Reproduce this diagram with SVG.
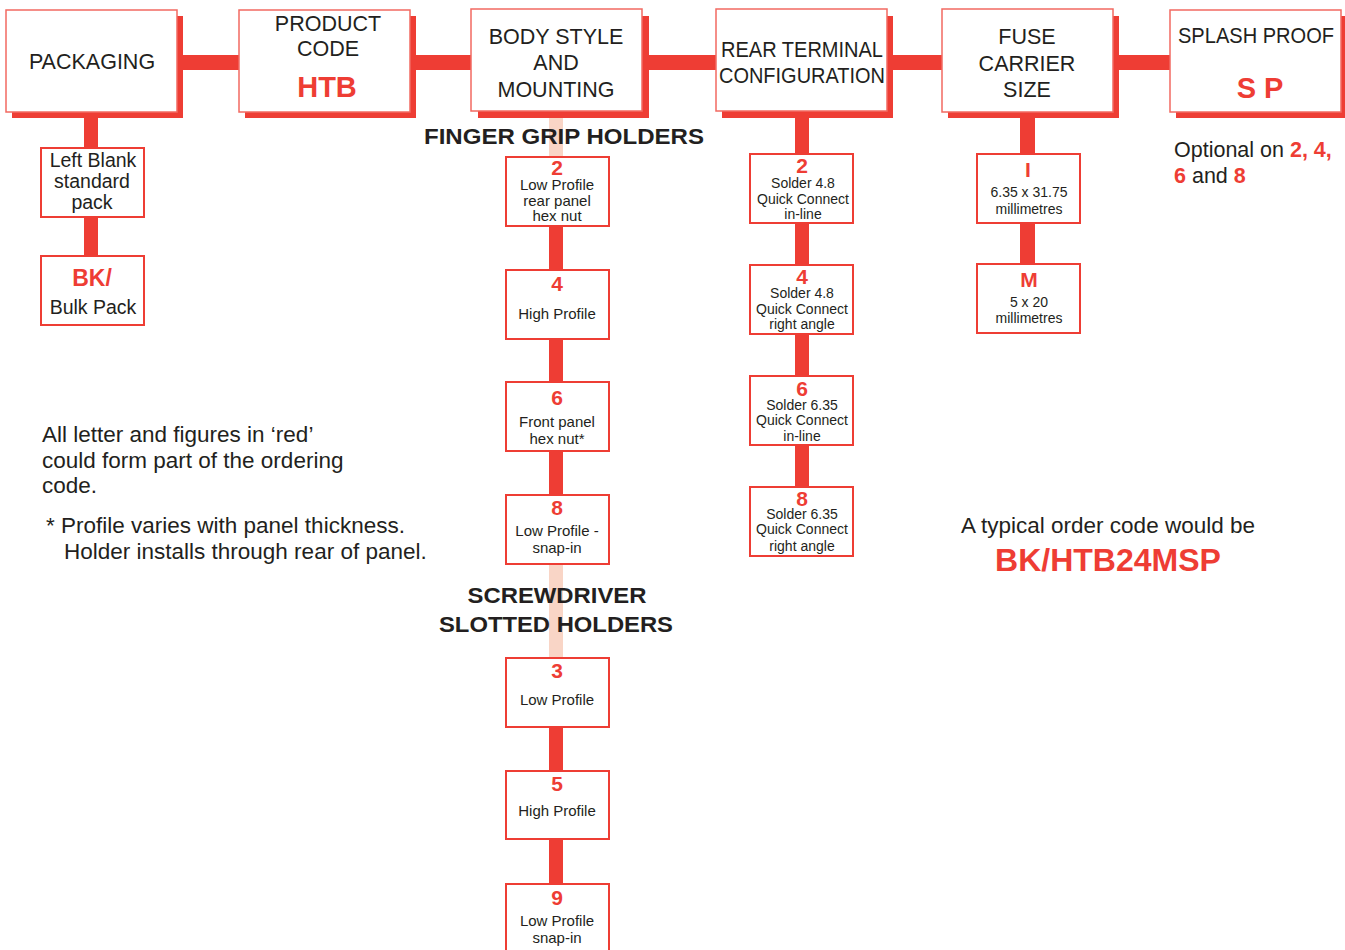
<svg xmlns="http://www.w3.org/2000/svg" width="1345" height="950" viewBox="0 0 1345 950">
<style>
text{font-family:"Liberation Sans",Arial,sans-serif;fill:#231f20;text-anchor:middle}
.h{font-size:21.5px}
.rb{fill:#ee3d34;font-weight:bold}
.s{font-size:14px}
.b{font-size:15px}
.m{font-size:19.5px}
.num{font-size:21px}
.sh{fill:#ee3d34}
.hb{fill:#fff;stroke:#f26a61;stroke-width:1.5}
.sb{fill:#fff;stroke:#ee3d34;stroke-width:2}
.c{fill:#ee3d34}
.p{fill:#f9d5c6}
.l{text-anchor:start}
.note{font-size:22.5px}
.bold{font-weight:bold}
</style>
<rect width="1345" height="950" fill="#fff"/>
<g id="connectors">
<rect class="c" x="177" y="55" width="993" height="15"/>
<rect class="c" x="84" y="112" width="14" height="36"/>
<rect class="c" x="84" y="217" width="14" height="38"/>
<rect class="p" x="549" y="111" width="14" height="45"/>
<rect class="c" x="549" y="226" width="14" height="43"/>
<rect class="c" x="549" y="339" width="14" height="43"/>
<rect class="c" x="549" y="451" width="14" height="44"/>
<rect class="p" x="549" y="564" width="14" height="93"/>
<rect class="c" x="549" y="727" width="14" height="43"/>
<rect class="c" x="549" y="839" width="14" height="44"/>
<rect class="c" x="795" y="111" width="14" height="43"/>
<rect class="c" x="795" y="223" width="14" height="42"/>
<rect class="c" x="795" y="334" width="14" height="42"/>
<rect class="c" x="795" y="446" width="14" height="41"/>
<rect class="c" x="1020" y="112" width="15" height="42"/>
<rect class="c" x="1020" y="223" width="15" height="41"/>
</g>
<g id="packaging">
<rect class="sh" x="12" y="16" width="171" height="102"/>
<rect class="hb" x="6" y="10" width="171" height="102"/>
<text class="h" x="92" y="69">PACKAGING</text>
</g>
<g id="product-code">
<rect class="sh" x="245" y="16" width="171" height="102"/>
<rect class="hb" x="239" y="10" width="171" height="102"/>
<text class="h" x="328" y="31">PRODUCT</text>
<text class="h" x="328" y="56">CODE</text>
<text class="rb" x="327" y="97" font-size="29">HTB</text>
</g>
<g id="body-style">
<rect class="sh" x="478" y="16" width="171" height="102"/>
<rect class="hb" x="471" y="9" width="171" height="102"/>
<text class="h" x="556" y="44">BODY STYLE</text>
<text class="h" x="556" y="70">AND</text>
<text class="h" x="556" y="97">MOUNTING</text>
</g>
<g id="rear-terminal">
<rect class="sh" x="722" y="16" width="171" height="102"/>
<rect class="hb" x="716" y="9" width="171" height="102"/>
<text class="h" x="802" y="57" textLength="162" lengthAdjust="spacingAndGlyphs">REAR TERMINAL</text>
<text class="h" x="802" y="83" textLength="166" lengthAdjust="spacingAndGlyphs">CONFIGURATION</text>
</g>
<g id="fuse-carrier">
<rect class="sh" x="948" y="16" width="171" height="102"/>
<rect class="hb" x="942" y="9" width="171" height="103"/>
<text class="h" x="1027" y="44">FUSE</text>
<text class="h" x="1027" y="71">CARRIER</text>
<text class="h" x="1027" y="97">SIZE</text>
</g>
<g id="splash-proof">
<rect class="sh" x="1176" y="16" width="171" height="102"/>
<rect class="hb" x="1170" y="10" width="171" height="102"/>
<text class="h" x="1256" y="43" textLength="156" lengthAdjust="spacingAndGlyphs">SPLASH PROOF</text>
<text class="rb" x="1260" y="98" font-size="29">S P</text>
</g>
<g id="left-blank">
<rect class="sb" x="41" y="148" width="103" height="69"/>
<text class="m" x="93" y="167">Left Blank</text>
<text class="m" x="92" y="188">standard</text>
<text class="m" x="92" y="209">pack</text>
</g>
<g id="bulk-pack">
<rect class="sb" x="41" y="256" width="103" height="69"/>
<text class="rb" x="92" y="286" font-size="23">BK/</text>
<text class="m" x="93" y="314">Bulk Pack</text>
</g>
<g id="finger-grip-label">
<text class="bold" x="564" y="144" font-size="22" textLength="280" lengthAdjust="spacingAndGlyphs">FINGER GRIP HOLDERS</text>
</g>
<g id="body-2">
<rect class="sb" x="506" y="157" width="103" height="69"/>
<text class="rb num" x="557" y="175">2</text>
<text class="b" x="557" y="190">Low Profile</text>
<text class="b" x="557" y="206">rear panel</text>
<text class="b" x="557" y="221">hex nut</text>
</g>
<g id="body-4">
<rect class="sb" x="506" y="270" width="103" height="69"/>
<text class="rb num" x="557" y="291">4</text>
<text class="b" x="557" y="319">High Profile</text>
</g>
<g id="body-6">
<rect class="sb" x="506" y="382" width="103" height="69"/>
<text class="rb num" x="557" y="405">6</text>
<text class="b" x="557" y="427">Front panel</text>
<text class="b" x="557" y="444">hex nut*</text>
</g>
<g id="body-8">
<rect class="sb" x="506" y="495" width="103" height="69"/>
<text class="rb num" x="557" y="515">8</text>
<text class="b" x="557" y="536">Low Profile -</text>
<text class="b" x="557" y="553">snap-in</text>
</g>
<g id="screwdriver-label">
<text class="bold" x="557" y="603" font-size="22" textLength="179" lengthAdjust="spacingAndGlyphs">SCREWDRIVER</text>
<text class="bold" x="556" y="632" font-size="22" textLength="234" lengthAdjust="spacingAndGlyphs">SLOTTED HOLDERS</text>
</g>
<g id="body-3">
<rect class="sb" x="506" y="658" width="103" height="69"/>
<text class="rb num" x="557" y="678">3</text>
<text class="b" x="557" y="705">Low Profile</text>
</g>
<g id="body-5">
<rect class="sb" x="506" y="771" width="103" height="68"/>
<text class="rb num" x="557" y="791">5</text>
<text class="b" x="557" y="816">High Profile</text>
</g>
<g id="body-9">
<rect class="sb" x="506" y="884" width="103" height="70"/>
<text class="rb num" x="557" y="905">9</text>
<text class="b" x="557" y="926">Low Profile</text>
<text class="b" x="557" y="943">snap-in</text>
</g>
<g id="rear-2">
<rect class="sb" x="750" y="154" width="103" height="69"/>
<text class="rb num" x="802" y="173">2</text>
<text class="s" x="803" y="188">Solder 4.8</text>
<text class="s" x="803" y="204">Quick Connect</text>
<text class="s" x="803" y="219">in-line</text>
</g>
<g id="rear-4">
<rect class="sb" x="750" y="265" width="103" height="69"/>
<text class="rb num" x="802" y="284">4</text>
<text class="s" x="802" y="298">Solder 4.8</text>
<text class="s" x="802" y="314">Quick Connect</text>
<text class="s" x="802" y="329">right angle</text>
</g>
<g id="rear-6">
<rect class="sb" x="750" y="376" width="103" height="69"/>
<text class="rb num" x="802" y="396">6</text>
<text class="s" x="802" y="410">Solder 6.35</text>
<text class="s" x="802" y="425">Quick Connect</text>
<text class="s" x="802" y="441">in-line</text>
</g>
<g id="rear-8">
<rect class="sb" x="750" y="487" width="103" height="69"/>
<text class="rb num" x="802" y="506">8</text>
<text class="s" x="802" y="519">Solder 6.35</text>
<text class="s" x="802" y="534">Quick Connect</text>
<text class="s" x="802" y="551">right angle</text>
</g>
<g id="fuse-I">
<rect class="sb" x="977" y="154" width="103" height="69"/>
<text class="rb num" x="1028" y="177">I</text>
<text class="s" x="1029" y="197">6.35 x 31.75</text>
<text class="s" x="1029" y="214">millimetres</text>
</g>
<g id="fuse-M">
<rect class="sb" x="977" y="264" width="103" height="69"/>
<text class="rb num" x="1029" y="287">M</text>
<text class="s" x="1029" y="307">5 x 20</text>
<text class="s" x="1029" y="323">millimetres</text>
</g>
<g id="notes">
<text class="l" x="1174" y="157" font-size="21.5">Optional on <tspan class="rb">2, 4,</tspan></text>
<text class="l" x="1174" y="183" font-size="21.5"><tspan class="rb">6</tspan> and <tspan class="rb">8</tspan></text>
<text class="l note" x="42" y="442">All letter and figures in ‘red’</text>
<text class="l note" x="42" y="468">could form part of the ordering</text>
<text class="l note" x="42" y="493">code.</text>
<text class="l note" x="46" y="533">* Profile varies with panel thickness.</text>
<text class="l note" x="64" y="559">Holder installs through rear of panel.</text>
<text x="1108" y="533" font-size="22.5">A typical order code would be</text>
<text class="rb" x="1108" y="571" font-size="32">BK/HTB24MSP</text>
</g>
</svg>
